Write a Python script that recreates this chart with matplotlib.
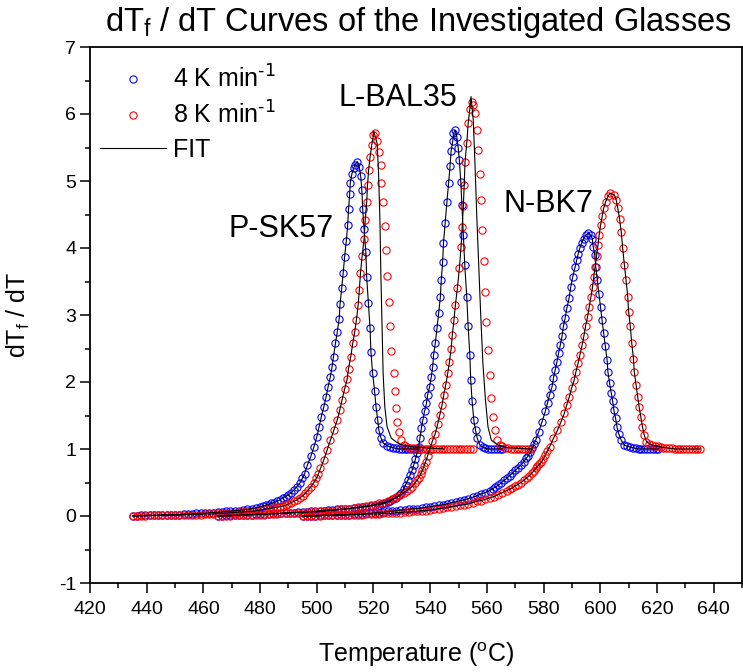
import numpy as np
import matplotlib
matplotlib.use('Agg')
import matplotlib.pyplot as plt
from matplotlib.lines import Line2D
from matplotlib.ticker import MultipleLocator

plt.rcParams['font.family'] = ['Liberation Sans', 'DejaVu Sans']
plt.rcParams['mathtext.default'] = 'regular'
plt.rcParams['axes.unicode_minus'] = False

# ---- data (temperature in degC, dTf/dT) ----
# P-SK57, 4 K/min
psk57_4_T = [435, 436.5, 438, 439.5, 441, 442.5, 444, 445.5, 447, 448.5, 450, 451.5, 453, 454.5, 456,
             457.5, 459, 460.5, 462, 463.5, 465, 466.5, 468, 469.5, 471, 472.5, 474, 475.5, 477, 478.5,
             480, 481, 482, 483, 484, 485, 486, 487, 488, 489, 490, 491, 492, 493, 494, 494.9, 495.7,
             496.7, 497.9, 499.0, 500.0, 500.8, 501.6, 502.5, 503.3, 504.0, 504.8, 505.4, 505.9, 506.6,
             507.2, 507.9, 508.2, 508.8, 509.3, 509.8, 510.4, 510.9, 511.2, 511.6, 511.8, 512.4, 513.0,
             513.5, 514.3, 515.0, 515.5, 515.9, 516.2, 516.7, 517.3, 517.6, 518.2, 518.8, 519.1, 519.7,
             520.4, 520.9, 521.5, 521.9, 522.6, 523.4, 524.8, 526, 527, 528, 529, 530, 531, 532, 533,
             534, 535, 536]
psk57_4_v = [0.00, 0.00, 0.01, 0.01, 0.01, 0.01, 0.01, 0.02, 0.02, 0.02, 0.02, 0.02, 0.03, 0.03, 0.03,
             0.04, 0.04, 0.04, 0.05, 0.05, 0.06, 0.06, 0.07, 0.07, 0.08, 0.08, 0.09, 0.10, 0.11, 0.12,
             0.14, 0.15, 0.16, 0.17, 0.19, 0.20, 0.22, 0.24, 0.27, 0.29, 0.32, 0.35, 0.39, 0.44, 0.49,
             0.56, 0.63, 0.76, 0.89, 1.03, 1.18, 1.33, 1.48, 1.63, 1.78, 1.93, 2.08, 2.23, 2.38, 2.58,
             2.74, 2.94, 3.16, 3.40, 3.62, 3.86, 4.10, 4.34, 4.58, 4.80, 4.97, 5.11, 5.19, 5.24, 5.29,
             5.21, 5.07, 4.86, 4.58, 4.28, 3.94, 3.57, 3.18, 2.80, 2.45, 2.13, 1.86, 1.63, 1.43, 1.28,
             1.17, 1.09, 1.05, 1.03, 1.02, 1.01, 1.00, 1.00, 1.00, 1.00, 1.00, 1.00, 1.00, 1.00]

# P-SK57, 8 K/min
psk57_8_T = [435, 436.5, 438, 439.5, 441, 442.5, 444, 445.5, 447, 448.5, 450, 451.5, 453, 454.5, 456,
             457.5, 459, 460.5, 462, 463.5, 465, 466.5, 468, 469.5, 471, 472.5, 474, 475.5, 477, 478.5,
             480, 481.5, 483, 484.5, 486, 487, 488, 489, 490, 491, 492, 493, 494, 495, 496, 497, 498,
             499, 499.8, 500.5, 501.3, 502.5, 503.7, 504.8, 506.0, 507.2, 508.1, 508.9, 509.8, 510.7,
             511.2, 512.0, 512.7, 513.4, 514.0, 514.6, 515.0, 515.4, 516.0, 516.7, 517.1, 517.6, 517.9,
             518.3, 518.8, 519.4, 520.0, 520.6, 521.3, 521.9, 522.5, 522.8, 523.4, 524.0, 524.3, 524.9,
             525.4, 525.7, 526.3, 527.1, 527.7, 528.1, 528.4, 529.0, 529.8, 530.9, 532.0, 533, 534, 535,
             536, 537, 538, 539, 540, 541, 542, 543, 544, 545, 546, 547, 548, 549, 550, 551, 552, 553,
             554, 555]
psk57_8_v = [0.00, 0.00, 0.00, 0.00, 0.01, 0.01, 0.01, 0.01, 0.01, 0.01, 0.01, 0.01, 0.02, 0.02, 0.02,
             0.02, 0.02, 0.03, 0.03, 0.03, 0.04, 0.04, 0.04, 0.05, 0.05, 0.06, 0.06, 0.07, 0.07, 0.08,
             0.09, 0.10, 0.11, 0.12, 0.13, 0.14, 0.15, 0.16, 0.18, 0.20, 0.22, 0.24, 0.27, 0.30, 0.34,
             0.39, 0.44, 0.50, 0.56, 0.62, 0.71, 0.84, 0.99, 1.13, 1.28, 1.43, 1.58, 1.73, 1.89, 2.04,
             2.20, 2.38, 2.58, 2.75, 2.93, 3.15, 3.37, 3.62, 3.88, 4.14, 4.42, 4.68, 4.94, 5.17, 5.36,
             5.54, 5.69, 5.71, 5.60, 5.44, 5.24, 4.97, 4.68, 4.33, 3.97, 3.58, 3.20, 2.83, 2.46, 2.13,
             1.86, 1.61, 1.41, 1.26, 1.13, 1.06, 1.03, 1.02, 1.01, 1.01, 1.00, 1.00, 1.00, 1.00, 1.00,
             1.00, 1.00, 1.00, 1.00, 1.00, 1.00, 1.00, 1.00, 1.00, 1.00, 1.00, 1.00, 1.00, 1.00, 1.00]
# falling branch of the 8 K/min fit (it drops earlier than the data)
psk57_8_fit_T = [520.1, 521.3, 521.8, 522.3, 522.6, 523.0, 523.4, 524.0, 524.8, 526.3, 529.2, 533.9, 545]
psk57_8_fit_v = [5.74, 5.56, 5.11, 4.37, 3.62, 2.88, 2.13, 1.63, 1.33, 1.16, 1.07, 1.03, 1.00]

# L-BAL35, 4 K/min
lbal35_4_T = [465, 466.5, 468, 469.5, 471, 472.5, 474, 475.5, 477, 478.5, 480, 481.5, 483, 484.5, 486,
              487.5, 489, 490.5, 492, 493.5, 495, 496.5, 498, 499.5, 501, 502.5, 504, 505.5, 507, 508.5,
              510, 511.5, 513, 514.5, 516, 517.5, 519, 520.5, 522, 523, 524, 525, 526, 527, 528, 529,
              529.8, 530.6, 531.4, 532.2, 532.9, 533.6, 534.2, 534.8, 535.4, 535.9, 536.4, 536.9, 537.4,
              538.0, 538.7, 539.1, 539.8, 540.4, 540.9, 541.2, 541.8, 542.4, 543.0, 543.6, 543.9, 544.4,
              544.7, 545.3, 545.9, 546.5, 547.0, 547.4, 548.0, 548.2, 548.8, 549.4, 549.9, 550.3, 550.8,
              551.2, 551.7, 552.2, 552.9, 553.4, 554.0, 554.3, 554.8, 555.4, 556.0, 556.6, 557.5, 558.5,
              559.5, 560.5, 561.5, 562.5, 563.5, 564.5, 565.5]
lbal35_4_v = [0.00, 0.00, 0.01, 0.01, 0.01, 0.01, 0.02, 0.02, 0.02, 0.03, 0.03, 0.03, 0.03, 0.04, 0.04,
              0.04, 0.05, 0.05, 0.05, 0.06, 0.06, 0.06, 0.07, 0.07, 0.08, 0.08, 0.09, 0.09, 0.10, 0.10,
              0.11, 0.11, 0.12, 0.12, 0.13, 0.14, 0.15, 0.16, 0.17, 0.18, 0.19, 0.21, 0.22, 0.25, 0.27,
              0.31, 0.35, 0.40, 0.47, 0.54, 0.61, 0.68, 0.76, 0.85, 0.94, 1.03, 1.17, 1.31, 1.43, 1.56,
              1.68, 1.81, 1.93, 2.08, 2.23, 2.40, 2.58, 2.80, 3.03, 3.27, 3.52, 3.79, 4.08, 4.38, 4.68,
              4.97, 5.22, 5.45, 5.60, 5.71, 5.76, 5.66, 5.49, 5.31, 4.99, 4.64, 4.19, 3.75, 3.27, 2.83,
              2.40, 2.03, 1.71, 1.43, 1.28, 1.16, 1.06, 1.03, 1.01, 1.00, 1.00, 1.00, 1.00, 1.00, 1.00]

# L-BAL35, 8 K/min
lbal35_8_T = [465, 466.5, 468, 469.5, 471, 472.5, 474, 475.5, 477, 478.5, 480, 481.5, 483, 484.5, 486,
              487.5, 489, 490.5, 492, 493.5, 495, 496.5, 498, 499.5, 501, 502.5, 504, 505.5, 507, 508.5,
              510, 511.5, 513, 514.5, 516, 517.5, 519, 520.5, 522, 523.5, 525, 526.5, 528, 529.5, 530.7,
              531.8, 532.8, 533.7, 534.5, 535.3, 536.0, 536.6, 537.2, 537.8, 538.4, 539.1, 539.8, 540.8,
              541.8, 542.7, 543.4, 544.2, 544.8, 545.5, 546.2, 546.8, 547.4, 547.8, 548.4, 548.9, 549.6,
              550.3, 550.9, 551.3, 551.7, 552.0, 552.3, 552.9, 553.4, 554.0, 554.7, 555.2, 555.8, 556.4,
              556.9, 557.5, 557.8, 558.3, 558.9, 559.5, 559.8, 560.4, 561.0, 561.6, 562.1, 562.7, 563.5,
              564.5, 565.5, 566.5, 567.5, 568.5, 569.5, 570.5, 571.5, 572.5, 573.5, 574.5, 575.5]
lbal35_8_v = [0.00, 0.00, 0.00, 0.00, 0.01, 0.01, 0.01, 0.01, 0.02, 0.02, 0.02, 0.02, 0.03, 0.03, 0.03,
              0.04, 0.04, 0.04, 0.05, 0.05, 0.05, 0.06, 0.06, 0.06, 0.07, 0.07, 0.08, 0.08, 0.09, 0.10,
              0.10, 0.11, 0.12, 0.13, 0.14, 0.15, 0.16, 0.17, 0.19, 0.20, 0.22, 0.25, 0.28, 0.31, 0.35,
              0.38, 0.41, 0.44, 0.49, 0.53, 0.57, 0.62, 0.68, 0.74, 0.81, 0.90, 0.99, 1.12, 1.23, 1.38,
              1.51, 1.66, 1.81, 1.96, 2.13, 2.30, 2.50, 2.70, 2.93, 3.15, 3.40, 3.70, 4.02, 4.32, 4.62,
              4.94, 5.29, 5.56, 5.86, 6.08, 6.18, 6.13, 6.01, 5.76, 5.46, 5.11, 4.72, 4.27, 3.80, 3.35,
              2.90, 2.48, 2.10, 1.76, 1.48, 1.28, 1.13, 1.06, 1.04, 1.02, 1.01, 1.00, 1.00, 1.00, 1.00,
              1.00, 1.00, 1.00, 1.00]
lbal35_8_fit_T = [554.4, 555.2, 555.8, 556.4, 557.1, 557.8, 558.6, 559.5, 560.4, 561.6, 563.9, 567, 575.5]
lbal35_8_fit_v = [6.26, 5.91, 5.26, 4.52, 3.77, 3.03, 2.28, 1.73, 1.33, 1.13, 1.06, 1.02, 1.00]

# N-BK7, 4 K/min
nbk7_4_T = [495, 496.5, 498, 499.5, 501, 502.5, 504, 505.5, 507, 508.5, 510, 511.5, 513, 514.5, 516,
            517.5, 519, 520.5, 522, 523.5, 525, 526.5, 528, 529.5, 531, 532.5, 534, 535.5, 537, 538.5,
            540, 541.5, 543, 544.5, 546, 547.5, 549, 550.5, 552, 553.5, 555, 556.5, 558, 559.5, 561,
            562, 563, 564, 565, 566, 567, 568, 569, 570, 571, 572, 573, 573.9, 574.6, 575.3, 576.0,
            576.6, 577.2, 578.3, 579.5, 580.6, 581.4, 582.1, 583.0, 583.5, 584.1, 584.7, 585.3, 585.9,
            586.5, 587.0, 587.6, 588.2, 589.0, 589.6, 590.3, 591.1, 591.7, 592.2, 592.8, 593.5, 594.2,
            594.9, 595.7, 596.6, 597.2, 597.5, 598.1, 598.4, 599.0, 599.5, 600.1, 600.6, 601.2, 601.8,
            602.4, 602.7, 603.3, 603.9, 604.4, 604.8, 605.4, 605.9, 606.5, 607.4, 608.5, 609.5, 610.5,
            611.5, 612.5, 613.5, 614.5, 615.5, 616.5, 617.5, 618.5, 619.5, 620.5]
nbk7_4_v = [0.00, 0.00, 0.00, 0.00, 0.01, 0.01, 0.01, 0.01, 0.02, 0.02, 0.02, 0.02, 0.03, 0.03, 0.03,
            0.04, 0.04, 0.05, 0.05, 0.06, 0.07, 0.07, 0.08, 0.09, 0.09, 0.10, 0.11, 0.11, 0.12, 0.13,
            0.14, 0.15, 0.16, 0.17, 0.18, 0.20, 0.21, 0.23, 0.24, 0.26, 0.28, 0.30, 0.33, 0.35, 0.38,
            0.41, 0.43, 0.46, 0.49, 0.53, 0.56, 0.60, 0.64, 0.68, 0.72, 0.76, 0.81, 0.86, 0.90, 0.95,
            1.01, 1.07, 1.13, 1.26, 1.41, 1.56, 1.69, 1.81, 1.93, 2.06, 2.18, 2.30, 2.43, 2.55, 2.68,
            2.83, 2.95, 3.10, 3.25, 3.42, 3.57, 3.71, 3.82, 3.91, 4.00, 4.08, 4.14, 4.19, 4.22, 4.19,
            4.14, 4.02, 3.90, 3.72, 3.52, 3.32, 3.12, 2.93, 2.73, 2.53, 2.33, 2.15, 1.98, 1.83, 1.71,
            1.58, 1.46, 1.33, 1.23, 1.13, 1.06, 1.04, 1.03, 1.02, 1.01, 1.00, 1.00, 1.00, 1.00, 1.00,
            1.00, 1.00, 1.00]

# N-BK7, 8 K/min
nbk7_8_T = [495, 496.5, 498, 499.5, 501, 502.5, 504, 505.5, 507, 508.5, 510, 511.5, 513, 514.5, 516,
            517.5, 519, 520.5, 522, 523.5, 525, 526.5, 528, 529.5, 531, 532.5, 534, 535.5, 537, 538.5,
            540, 541.5, 543, 544.5, 546, 547.5, 549, 550.5, 552, 553.5, 555, 556.5, 558, 559.5, 561,
            562.5, 564, 565.5, 567, 568, 569, 570, 571, 572, 573, 574, 575, 575.8, 576.5, 577.2, 577.8,
            578.5, 579.2, 579.9, 580.6, 581.3, 582.1, 583.5, 584.9, 586.2, 587.3, 588.2, 589.1, 589.9,
            590.8, 591.4, 592.2, 592.8, 593.6, 594.2, 594.8, 595.5, 596.1, 596.7, 597.3, 597.7, 598.2,
            598.7, 599.2, 599.6, 600.1, 600.7, 601.2, 601.9, 602.7, 603.5, 605.0, 605.6, 606.2, 606.8,
            607.4, 607.9, 608.5, 609.1, 609.7, 610.0, 610.6, 611.1, 611.7, 612.0, 612.6, 613.2, 613.7,
            614.3, 614.9, 615.5, 616.3, 617.3, 618.3, 619.3, 620.3, 621.3, 622.3, 623.3, 624.3, 625.3,
            626.3, 627.3, 628.3, 629.3, 630.3, 631.3, 632.3, 633.3, 634.3, 635.3]
nbk7_8_v = [0.00, 0.00, 0.00, 0.00, 0.00, 0.01, 0.01, 0.01, 0.01, 0.01, 0.01, 0.02, 0.02, 0.02, 0.02,
            0.03, 0.03, 0.03, 0.03, 0.04, 0.04, 0.04, 0.05, 0.05, 0.06, 0.06, 0.07, 0.07, 0.08, 0.08,
            0.09, 0.10, 0.11, 0.12, 0.13, 0.14, 0.15, 0.16, 0.17, 0.18, 0.20, 0.22, 0.23, 0.25, 0.27,
            0.29, 0.32, 0.35, 0.38, 0.40, 0.42, 0.45, 0.47, 0.50, 0.53, 0.57, 0.60, 0.64, 0.67, 0.71,
            0.74, 0.77, 0.80, 0.85, 0.91, 0.97, 1.03, 1.16, 1.28, 1.41, 1.53, 1.66, 1.78, 1.91, 2.03,
            2.15, 2.28, 2.40, 2.55, 2.68, 2.83, 2.97, 3.12, 3.27, 3.42, 3.57, 3.72, 3.88, 4.04, 4.19,
            4.34, 4.48, 4.59, 4.69, 4.77, 4.82, 4.79, 4.72, 4.59, 4.44, 4.24, 4.00, 3.75, 3.52, 3.27,
            3.05, 2.83, 2.58, 2.35, 2.15, 1.96, 1.78, 1.63, 1.48, 1.33, 1.21, 1.11, 1.08, 1.06, 1.05,
            1.04, 1.03, 1.02, 1.02, 1.01, 1.01, 1.00, 1.00, 1.00, 1.00, 1.00, 1.00, 1.00, 1.00, 1.00,
            1.00]

# text labels for each glass: (name, T, dTf/dT) centre positions
glass_labels = [('P-SK57', 487.4, 4.28), ('L-BAL35', 528.6, 6.24), ('N-BK7', 581.6, 4.66)]

blue_sets = [(psk57_4_T, psk57_4_v), (lbal35_4_T, lbal35_4_v), (nbk7_4_T, nbk7_4_v)]
red_sets = [(psk57_8_T, psk57_8_v), (lbal35_8_T, lbal35_8_v), (nbk7_8_T, nbk7_8_v)]


def fit_curve(T, v, fall_T=None, fall_v=None):
    # fit follows the data up to the peak; some fits have their own falling branch
    T = np.asarray(T)
    v = np.asarray(v)
    if fall_T is None:
        return T, v
    k = int(np.argmax(v))
    return np.r_[T[:k], fall_T], np.r_[v[:k], fall_v]


fig = plt.figure(figsize=(7.43, 6.72), dpi=100)
ax = fig.add_axes([90 / 743, 89 / 672, 652 / 743, 536 / 672])

mk = dict(ls='none', marker='o', ms=5.2, mfc='none', mew=0.8)
for T, v in blue_sets:
    ax.plot(T, v, mec='#0000ff', **mk)
for T, v in red_sets:
    ax.plot(T, v, mec='#ff0000', **mk)

fits = [fit_curve(*blue_sets[0]), fit_curve(*blue_sets[1]), fit_curve(*blue_sets[2]),
        fit_curve(psk57_8_T, psk57_8_v, psk57_8_fit_T, psk57_8_fit_v),
        fit_curve(lbal35_8_T, lbal35_8_v, lbal35_8_fit_T, lbal35_8_fit_v),
        fit_curve(*red_sets[2])]
for T, v in fits:
    ax.plot(T, v, color='black', lw=0.8)

for name, tx, ty in glass_labels:
    ax.text(tx, ty, name, fontsize=22, ha='center', va='center')

ax.set_xlim(420, 650)
ax.set_ylim(-1, 7)
ax.xaxis.set_major_locator(MultipleLocator(20))
ax.xaxis.set_minor_locator(MultipleLocator(10))
ax.yaxis.set_major_locator(MultipleLocator(1))
ax.yaxis.set_minor_locator(MultipleLocator(0.5))
ax.tick_params(which='both', direction='out', top=False, right=False, width=1.1)
ax.tick_params(which='major', length=7, labelsize=14)
ax.tick_params(axis='x', which='major', pad=6)
ax.tick_params(axis='y', which='major', pad=3)
ax.tick_params(which='minor', length=3.5)
for s in ax.spines.values():
    s.set_linewidth(1.3)

handles = [Line2D([], [], ls='none', marker='o', ms=5.2, mfc='none', mec='#0000ff', mew=0.8),
           Line2D([], [], ls='none', marker='o', ms=5.2, mfc='none', mec='#ff0000', mew=0.8),
           Line2D([], [], color='black', lw=0.8)]
labels = ['4 K min$^{\\text{-1}}$', '8 K min$^{\\text{-1}}$', 'FIT']
ax.legend(handles, labels, loc='upper left', bbox_to_anchor=(0.0153, 0.966), frameon=False,
          fontsize=18, handlelength=2.64, handletextpad=0.28, labelspacing=0.37,
          borderpad=0, borderaxespad=0, numpoints=1)

fig.text(0.5635, 1 - 22 / 672, 'dT$_f$ / dT Curves of the Investigated Glasses',
         fontsize=23.5, ha='center', va='center')
fig.text(18 / 743, 1 - 315 / 672, 'dT$_f$ / dT', fontsize=18, rotation=90,
         ha='center', va='center')
fig.text(416 / 743, 1 - 655 / 672, 'Temperature ($^o$C)', fontsize=18,
         ha='center', va='center')

fig.savefig('out.png', dpi=100)
